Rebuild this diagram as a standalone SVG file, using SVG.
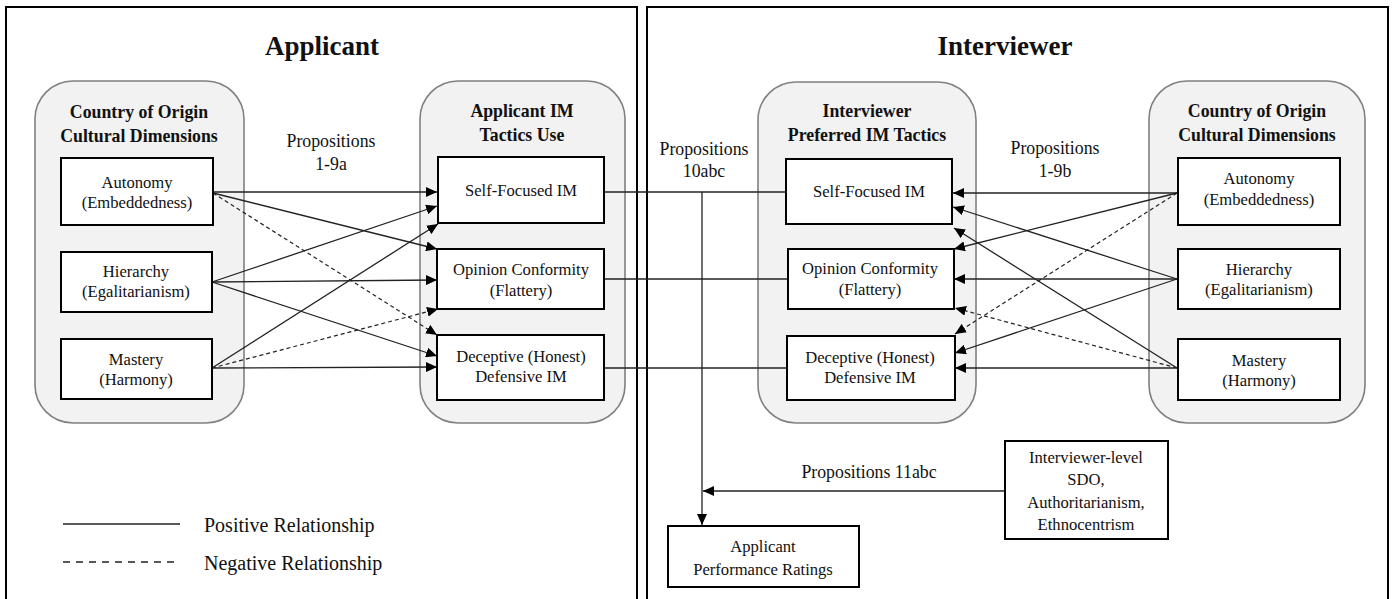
<svg xmlns="http://www.w3.org/2000/svg" width="1396" height="599" viewBox="0 0 1396 599">
<defs>
<style>
text{font-family:"Liberation Serif","Times New Roman",serif;fill:#111;text-anchor:middle}
.title{font-size:27px;font-weight:bold}
.gt{font-size:17.8px;font-weight:bold}
.bt{font-size:16.6px}
.pt{font-size:17.8px}
.lg{font-size:20px;text-anchor:start}
.panel{fill:none;stroke:#000;stroke-width:2}
.grp{fill:#f2f2f2;stroke:#808080;stroke-width:1.6}
.box{fill:#fff;stroke:#000;stroke-width:2}
.c{fill:none;stroke:#222;stroke-width:1.3}
.d{fill:none;stroke:#222;stroke-width:1.2;stroke-dasharray:4 3}
.a{marker-end:url(#ah)}
</style>
<marker id="ah" markerUnits="userSpaceOnUse" markerWidth="11" markerHeight="10" refX="11" refY="5" orient="auto">
<path d="M0,0 L11,5 L0,10 z" fill="#000"/>
</marker>
</defs>

<g id="panels">
<rect class="panel" x="6" y="7" width="631" height="600"/>
<rect class="panel" x="647" y="7" width="741" height="600"/>
<text class="title" x="322" y="55">Applicant</text>
<text class="title" x="1005" y="55">Interviewer</text>
</g>

<g id="grp-app-country">
<rect class="grp" x="35" y="81" width="209" height="342" rx="38"/>
<text class="gt" x="139" y="118">Country of Origin</text>
<text class="gt" x="139" y="142">Cultural Dimensions</text>
</g>
<g id="grp-app-im">
<rect class="grp" x="420" y="81" width="205" height="342" rx="38"/>
<text class="gt" x="522" y="117">Applicant IM</text>
<text class="gt" x="522" y="141">Tactics Use</text>
</g>
<g id="grp-int-im">
<rect class="grp" x="758" y="82" width="218" height="341" rx="38"/>
<text class="gt" x="867" y="117">Interviewer</text>
<text class="gt" x="867" y="141">Preferred IM Tactics</text>
</g>
<g id="grp-int-country">
<rect class="grp" x="1149" y="81" width="216" height="342" rx="38"/>
<text class="gt" x="1257" y="117">Country of Origin</text>
<text class="gt" x="1257" y="141">Cultural Dimensions</text>
</g>

<g id="connectors">
<line class="c a" x1="213" y1="192" x2="437" y2="192"/>
<line class="c a" x1="213" y1="193" x2="437" y2="249"/>
<line class="d a" x1="213" y1="193" x2="437" y2="335"/>
<line class="c a" x1="212" y1="282" x2="437" y2="206"/>
<line class="c a" x1="212" y1="282" x2="437" y2="280"/>
<line class="c a" x1="212" y1="282" x2="437" y2="356"/>
<line class="c a" x1="212" y1="368" x2="438" y2="224"/>
<line class="d a" x1="212" y1="368" x2="438" y2="309"/>
<line class="c a" x1="212" y1="368" x2="437" y2="367"/>
<line class="c" x1="604" y1="192" x2="786" y2="192"/>
<line class="c" x1="604" y1="279" x2="788" y2="279"/>
<line class="c" x1="604" y1="368" x2="787" y2="368"/>
<line class="c a" x1="702" y1="192" x2="702" y2="525"/>
<line class="c a" x1="1005" y1="491" x2="703" y2="491"/>
<line class="c a" x1="1177" y1="193" x2="953" y2="193"/>
<line class="c a" x1="1177" y1="193" x2="954" y2="249"/>
<line class="d a" x1="1177" y1="193" x2="955" y2="334"/>
<line class="c a" x1="1177" y1="279" x2="953" y2="207"/>
<line class="c a" x1="1177" y1="279" x2="954" y2="279"/>
<line class="c a" x1="1177" y1="279" x2="955" y2="353"/>
<line class="c a" x1="1177" y1="368" x2="954" y2="228"/>
<line class="d a" x1="1177" y1="368" x2="955" y2="308"/>
<line class="c a" x1="1177" y1="368" x2="955" y2="368"/>
<line class="c" x1="63" y1="524" x2="180" y2="524" style="stroke-width:1.5"/>
<line class="c" x1="63" y1="562" x2="180" y2="562" style="stroke-width:1.5;stroke-dasharray:7 6"/>
</g>

<g id="labels">
<text class="pt" x="331" y="147">Propositions</text>
<text class="pt" x="331" y="170">1-9a</text>
<text class="pt" x="704" y="155">Propositions</text>
<text class="pt" x="704" y="177">10abc</text>
<text class="pt" x="1055" y="154">Propositions</text>
<text class="pt" x="1055" y="177">1-9b</text>
<text class="pt" x="869" y="478">Propositions 11abc</text>
<text class="lg" x="204" y="532">Positive Relationship</text>
<text class="lg" x="204" y="570">Negative Relationship</text>
</g>

<g id="a-autonomy">
<rect class="box" x="61" y="158" width="152" height="67"/>
<text class="bt" x="137" y="188">Autonomy</text>
<text class="bt" x="137" y="208">(Embeddedness)</text>
</g>
<g id="a-hierarchy">
<rect class="box" x="61" y="252" width="151" height="60"/>
<text class="bt" x="136" y="277">Hierarchy</text>
<text class="bt" x="136" y="297">(Egalitarianism)</text>
</g>
<g id="a-mastery">
<rect class="box" x="61" y="339" width="151" height="60"/>
<text class="bt" x="136" y="365">Mastery</text>
<text class="bt" x="136" y="385">(Harmony)</text>
</g>

<g id="a-self">
<rect class="box" x="438" y="157" width="166" height="66"/>
<text class="bt" x="521" y="196">Self-Focused IM</text>
</g>
<g id="a-opinion">
<rect class="box" x="437" y="249" width="167" height="60"/>
<text class="bt" x="521" y="275">Opinion Conformity</text>
<text class="bt" x="521" y="296">(Flattery)</text>
</g>
<g id="a-deceptive">
<rect class="box" x="437" y="335" width="167" height="65"/>
<text class="bt" x="521" y="362">Deceptive (Honest)</text>
<text class="bt" x="521" y="382">Defensive IM</text>
</g>

<g id="i-self">
<rect class="box" x="786" y="159" width="166" height="65"/>
<text class="bt" x="869" y="197">Self-Focused IM</text>
</g>
<g id="i-opinion">
<rect class="box" x="788" y="249" width="166" height="60"/>
<text class="bt" x="870" y="274">Opinion Conformity</text>
<text class="bt" x="870" y="295">(Flattery)</text>
</g>
<g id="i-deceptive">
<rect class="box" x="787" y="336" width="168" height="64"/>
<text class="bt" x="870" y="363">Deceptive (Honest)</text>
<text class="bt" x="870" y="383">Defensive IM</text>
</g>

<g id="i-autonomy">
<rect class="box" x="1178" y="158" width="162" height="67"/>
<text class="bt" x="1259" y="184">Autonomy</text>
<text class="bt" x="1259" y="205">(Embeddedness)</text>
</g>
<g id="i-hierarchy">
<rect class="box" x="1178" y="249" width="162" height="60"/>
<text class="bt" x="1259" y="275">Hierarchy</text>
<text class="bt" x="1259" y="295">(Egalitarianism)</text>
</g>
<g id="i-mastery">
<rect class="box" x="1178" y="339" width="162" height="61"/>
<text class="bt" x="1259" y="366">Mastery</text>
<text class="bt" x="1259" y="386">(Harmony)</text>
</g>

<g id="interviewer-level">
<rect class="box" x="1005" y="441" width="163" height="98"/>
<text class="bt" x="1086" y="463">Interviewer-level</text>
<text class="bt" x="1086" y="485">SDO,</text>
<text class="bt" x="1086" y="508">Authoritarianism,</text>
<text class="bt" x="1086" y="530">Ethnocentrism</text>
</g>

<g id="performance">
<rect class="box" x="668" y="526" width="191" height="61"/>
<text class="bt" x="763" y="552">Applicant</text>
<text class="bt" x="763" y="575">Performance Ratings</text>
</g>
</svg>
